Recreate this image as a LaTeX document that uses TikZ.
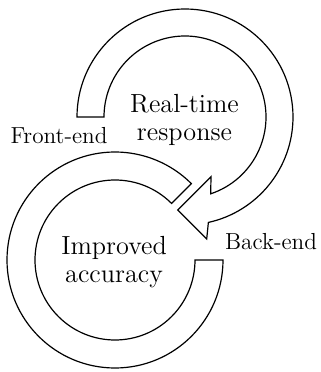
\documentclass[tikz,border=0pt]{standalone}
\usepackage{tikz}
\usetikzlibrary{positioning, calc}
\definecolor{inkdark}{RGB}{0,0,0}
\definecolor{paper}{RGB}{255,255,255}
\tikzset{
  band/.style={
    draw=inkdark, fill=paper, line width=0.6pt, line join=miter
  },
  bigtext/.style={
    font=\rmfamily\fontsize{13.1}{14}\selectfont, text=inkdark,
    align=center, inner sep=0pt
  },
  sidetext/.style={
    font=\rmfamily\fontsize{11.6}{14}\selectfont, text=inkdark, inner sep=0pt
  }
}

\begin{document}
\begin{tikzpicture}[x=0.5pt, y=0.5pt]
  \useasboundingbox (0,0) rectangle (321,372);
  \coordinate (c1) at (185,255);
  \coordinate (c2) at (115,112);
  \coordinate (barbB) at (206.7,133);
  \coordinate (tip) at (177.7,162);
  \coordinate (barbT) at (211,195.3);

  \draw[band] ($(c2)+(0:80)$) -- ($(c2)+(0:108)$)
    arc[start angle=0, end angle=-315, radius=108]
    -- ($(c2)+(45:80)$)
    arc[start angle=45, end angle=360, radius=80] -- cycle;

  \draw[band] ($(c1)+(180:81)$) -- ($(c1)+(180:108)$)
    arc[start angle=180, end angle=-77.5, radius=108]
    -- (barbB) -- (tip) -- (barbT)
    -- ($(c1)+(-71.5:81)$)
    arc[start angle=-71.5, end angle=180, radius=81] -- cycle;

  \node[bigtext] (resp) at (184.5,252.5) {Real-time\\response};
  \node[bigtext] (acc) at (114,109.5) {Improved\\accuracy};
  \node[sidetext, anchor=base] (front) at (59,229) {Front-end};
  \node[sidetext, anchor=base] (back) at (271,123) {Back-end};
\end{tikzpicture}
\end{document}
